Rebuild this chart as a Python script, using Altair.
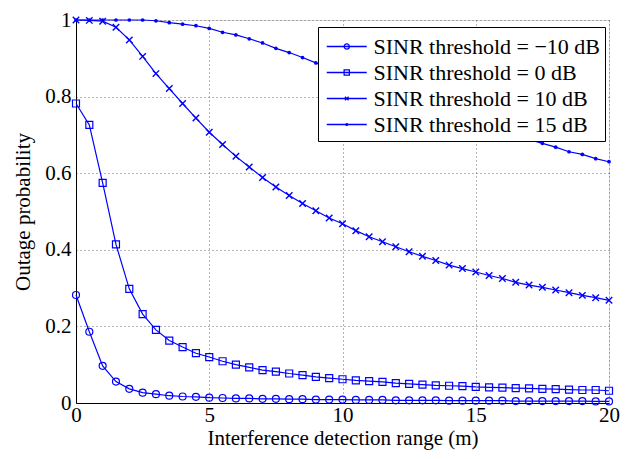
import altair as alt
import pandas as pd

x_vals = [0, 0.5, 1, 1.5, 2, 2.5, 3, 3.5, 4, 4.5, 5, 5.5, 6, 6.5, 7, 7.5, 8, 8.5, 9, 9.5,
          10, 10.5, 11, 11.5, 12, 12.5, 13, 13.5, 14, 14.5, 15, 15.5, 16, 16.5, 17, 17.5,
          18, 18.5, 19, 19.5, 20]

s_m10 = [0.282, 0.186, 0.097, 0.056, 0.037, 0.027, 0.023, 0.019, 0.017, 0.016, 0.014,
         0.013, 0.012, 0.012, 0.011, 0.011, 0.010, 0.010, 0.009, 0.009, 0.009,
         0.008, 0.008, 0.008, 0.007, 0.007, 0.007, 0.007, 0.006, 0.006, 0.006,
         0.006, 0.006, 0.005, 0.005, 0.005, 0.005, 0.005, 0.005, 0.004, 0.004]
s_0 = [0.782, 0.726, 0.575, 0.414, 0.298, 0.232, 0.191, 0.163, 0.146, 0.130, 0.120,
       0.109, 0.100, 0.093, 0.086, 0.082, 0.077, 0.073, 0.068, 0.065, 0.062,
       0.059, 0.057, 0.055, 0.052, 0.050, 0.048, 0.046, 0.045, 0.044, 0.042,
       0.041, 0.040, 0.039, 0.038, 0.037, 0.036, 0.035, 0.034, 0.034, 0.032]
s_10 = [1.0, 0.999, 0.997, 0.981, 0.948, 0.905, 0.860, 0.821, 0.782, 0.744, 0.707,
        0.675, 0.644, 0.616, 0.589, 0.564, 0.542, 0.521, 0.502, 0.483, 0.468,
        0.450, 0.434, 0.421, 0.408, 0.395, 0.383, 0.372, 0.360, 0.351, 0.342,
        0.333, 0.325, 0.315, 0.308, 0.302, 0.295, 0.288, 0.281, 0.275, 0.268]
s_15 = [1.0, 1.0, 1.0, 1.0, 1.0, 1.0, 0.998, 0.993, 0.989, 0.985, 0.978,
        0.968, 0.961, 0.951, 0.940, 0.926, 0.915, 0.902, 0.888, 0.875, 0.861,
        0.847, 0.833, 0.819, 0.805, 0.792, 0.779, 0.766, 0.754, 0.742, 0.730,
        0.719, 0.708, 0.698, 0.688, 0.678, 0.668, 0.656, 0.649, 0.638, 0.630]

labels = ["SINR threshold = \u221210 dB", "SINR threshold = 0 dB",
          "SINR threshold = 10 dB", "SINR threshold = 15 dB"]
series = [s_m10, s_0, s_10, s_15]

rows = []
for lab, vals in zip(labels, series):
    for xv, yv in zip(x_vals, vals):
        rows.append({"x": xv, "y": yv, "series": lab})
df = pd.DataFrame(rows)

BLUE = "#0000ff"
FONT = "Liberation Serif"
FS = 21

xs = alt.Scale(domain=[0, 20], nice=False)
ys = alt.Scale(domain=[0, 1], nice=False)

xenc = alt.X("x:Q", scale=xs, axis=alt.Axis(
    values=[0, 5, 10, 15, 20], title="Interference detection range (m)",
    grid=True, gridDash=[1, 3], gridColor="#666666", gridOpacity=1,
    tickSize=0, labelPadding=1, titleY=41, titleBaseline="alphabetic",
    labelFont=FONT, labelFontSize=FS, titleFont=FONT, titleFontSize=FS,
    titleFontWeight="normal", labelColor="black", titleColor="black",
    domainColor="black", labelFlush=False))
yenc = alt.Y("y:Q", scale=ys, axis=alt.Axis(
    values=[0, 0.2, 0.4, 0.6, 0.8, 1], format="~g", title="Outage probability",
    grid=True, gridDash=[1, 3], gridColor="#666666", gridOpacity=1,
    tickSize=0, labelPadding=5, titlePadding=11,
    labelFont=FONT, labelFontSize=FS, titleFont=FONT, titleFontSize=FS,
    titleFontWeight="normal", labelColor="black", titleColor="black",
    domainColor="black", labelFlush=False))

lines = alt.Chart(df).mark_line(color=BLUE, strokeWidth=1.2).encode(
    x=xenc, y=yenc, detail="series:N")

xpath = "M-1,-1L1,1M-1,1L1,-1"
marker_specs = [
    (labels[0], dict(shape="circle", size=49, filled=False, strokeWidth=1.2)),
    (labels[1], dict(shape="square", size=49, filled=False, strokeWidth=1.2)),
    (labels[2], dict(shape=xpath, size=42, filled=False, strokeWidth=1.4)),
    (labels[3], dict(shape="circle", size=14, filled=True, strokeWidth=0)),
]
marker_layers = []
for lab, spec in marker_specs:
    marker_layers.append(
        alt.Chart(df).transform_filter(alt.datum.series == lab)
        .mark_point(color=BLUE, opacity=1, **spec)
        .encode(x="x:Q", y="y:Q")
    )

# legend key glyphs: a 40px line with the marker in its middle (13.75px per path unit)
SYM = 756
c = 0.673
r = 0.189
circ = f"M{c - r},0A{r},{r} 0 1,0 {c + r},0A{r},{r} 0 1,0 {c - r},0"
sq = f"M{c - r},-{r}L{c + r},-{r}L{c + r},{r}L{c - r},{r}Z"
xr = 0.131
xm = f"M{c - xr},-{xr}L{c + xr},{xr}M{c - xr},{xr}L{c + xr},-{xr}"
d = 0.07
dot = f"M{c - d},0A{d},{d} 0 1,0 {c + d},0A{d},{d} 0 1,0 {c - d},0"
line = "M-0.782,0L2.127,0"
legend_paths = [line + circ, line + sq, line + xm, line + dot]

legend_layer = alt.Chart(df).mark_point(opacity=0, size=SYM, filled=False).encode(
    x="x:Q", y="y:Q",
    shape=alt.Shape("series:N", scale=alt.Scale(domain=labels, range=legend_paths),
                    legend=alt.Legend(
                        title=None, orient="none", legendX=242, legendY=7,
                        symbolSize=SYM, symbolStrokeColor=BLUE, symbolStrokeWidth=1.3,
                        symbolFillColor="transparent", symbolOpacity=1,
                        labelFont=FONT, labelFontSize=22, labelColor="black",
                        labelLimit=0, labelOffset=21.5, strokeColor="black",
                        fillColor="white", padding=5, cornerRadius=0,
                        rowPadding=0)))

chart = alt.layer(lines, *marker_layers, legend_layer).properties(
    width=533, height=383,
    padding={"left": 68, "top": 12, "right": 12, "bottom": 48},
    autosize=alt.AutoSizeParams(type="none"),
).configure_view(stroke=None).configure(background="white")

chart.save("out.html", embed_options={"renderer": "svg", "actions": False})
